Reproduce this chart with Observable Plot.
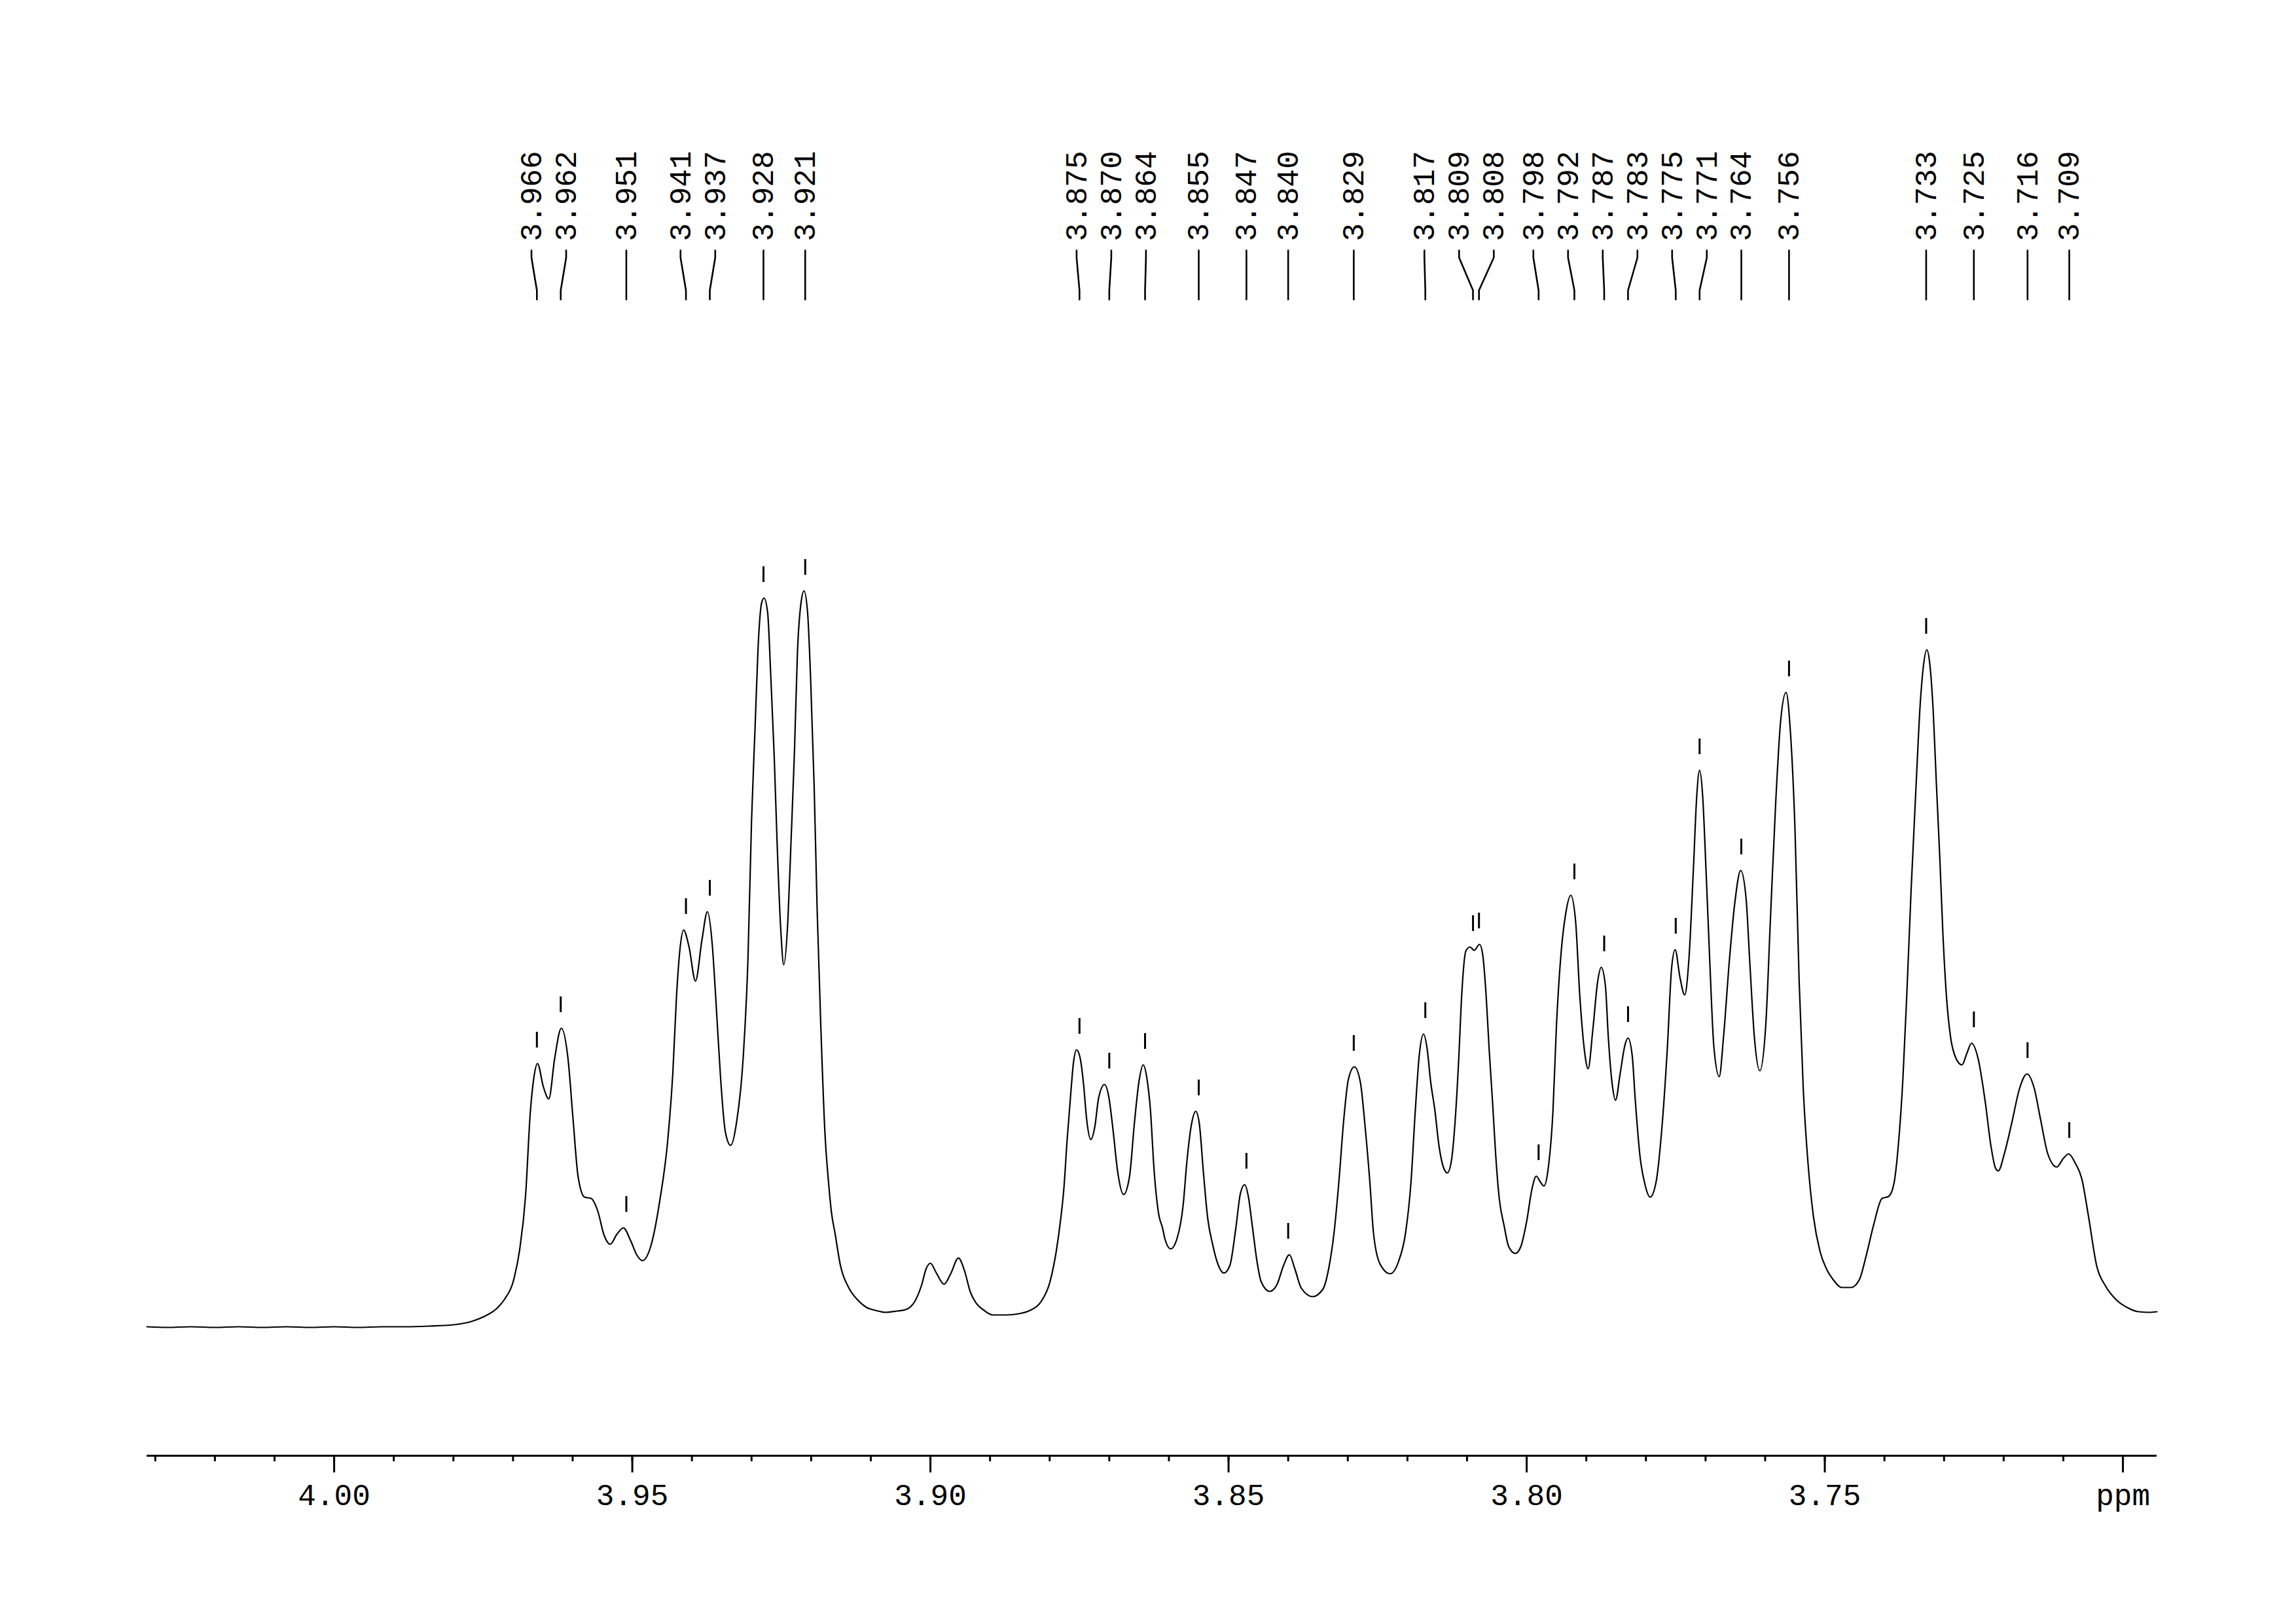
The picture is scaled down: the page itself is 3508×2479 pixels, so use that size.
<!DOCTYPE html>
<html>
<head>
<meta charset="utf-8">
<script src="https://cdn.jsdelivr.net/npm/d3@7"></script>
<script src="https://cdn.jsdelivr.net/npm/@observablehq/plot@0.6"></script>
<style>
  html, body { margin: 0; padding: 0; background: #ffffff; }
  #chart svg { display: block; }
</style>
</head>
<body>
<div id="chart"></div>
<script>
// ---------------- DATA ----------------
// chemical shift of each trace sample (ppm), left to right
const shiftPpm = [
  4.0314, 4.028, 4.024, 4.020, 4.016, 4.012, 4.008, 4.004, 4.000, 3.996, 3.992, 3.988, 3.984, 3.980, 3.977, 3.975,
  3.9726, 3.9715, 3.9698, 3.9689, 3.9679, 3.9671, 3.9665, 3.9659, 3.9649, 3.9640, 3.9630, 3.9619, 3.9608, 3.9599,
  3.9591, 3.9580, 3.9569, 3.9558, 3.9547, 3.9537, 3.9526, 3.9515, 3.9503, 3.9492, 3.9483, 3.9470, 3.9454, 3.9440,
  3.9432, 3.9426, 3.9420, 3.9414, 3.9405, 3.9394, 3.9383, 3.9374, 3.9366, 3.9360, 3.9352, 3.9344, 3.9335, 3.9325,
  3.9314, 3.9306, 3.9300, 3.9294, 3.9289, 3.9283, 3.9279, 3.9273, 3.9268, 3.9262, 3.9257, 3.9251, 3.9246, 3.9239,
  3.9234, 3.9228, 3.9223, 3.9217, 3.9212, 3.9206, 3.9201, 3.9195, 3.9190, 3.9184, 3.9177, 3.9171, 3.9166, 3.9160,
  3.9151, 3.9136, 3.9122, 3.9108, 3.9092, 3.9075, 3.9056, 3.9042, 3.9026, 3.9015, 3.9007, 3.9000, 3.8990, 3.8977,
  3.8966, 3.8953, 3.8943, 3.8933, 3.8924, 3.8910, 3.8895, 3.8873, 3.8851, 3.8833, 3.8814, 3.8800, 3.8789, 3.8782,
  3.8776, 3.8771, 3.8765, 3.8760, 3.8755, 3.8749, 3.8743, 3.8738, 3.8731, 3.8724, 3.8718, 3.8708, 3.8701, 3.8694,
  3.8686, 3.8676, 3.8666, 3.8658, 3.8650, 3.8643, 3.8637, 3.8631, 3.8625, 3.8617, 3.8611, 3.8606, 3.8597, 3.8586,
  3.8576, 3.8570, 3.8562, 3.8555, 3.8549, 3.8542, 3.8535, 3.8527, 3.8518, 3.8508, 3.8498, 3.8488, 3.8480, 3.8473,
  3.8467, 3.8460, 3.8452, 3.8445, 3.8431, 3.8419, 3.8408, 3.8398, 3.8389, 3.8378, 3.8359, 3.8342, 3.8332, 3.8323,
  3.8315, 3.8307, 3.8299, 3.8289, 3.8279, 3.8271, 3.8263, 3.8257, 3.8246, 3.8229, 3.8214, 3.8203, 3.8194, 3.8187,
  3.8180, 3.8173, 3.8167, 3.8161, 3.8154, 3.8147, 3.8139, 3.8133, 3.8126, 3.8120, 3.8114, 3.8109, 3.8102, 3.8095,
  3.8088, 3.8079, 3.8074, 3.8068, 3.8063, 3.8057, 3.8052, 3.8046, 3.8038, 3.8030, 3.8019, 3.8010, 3.8000, 3.7991,
  3.7984, 3.7977, 3.7971, 3.7964, 3.7956, 3.7950, 3.7942, 3.7934, 3.7926, 3.7918, 3.7911, 3.7903, 3.7897, 3.7889,
  3.7881, 3.7875, 3.7868, 3.7863, 3.7857, 3.7851, 3.7843, 3.7835, 3.7830, 3.7823, 3.7818, 3.7810, 3.7801, 3.7793,
  3.7783, 3.7774, 3.7764, 3.7757, 3.7751, 3.7743, 3.7735, 3.7728, 3.7720, 3.7715, 3.7710, 3.7705, 3.7699, 3.7693,
  3.7686, 3.7677, 3.7670, 3.7660, 3.7651, 3.7641, 3.7632, 3.7626, 3.7618, 3.7609, 3.7599, 3.7591, 3.7582, 3.7574,
  3.7565, 3.7558, 3.7550, 3.7543, 3.7536, 3.7528, 3.7519, 3.7508, 3.7497, 3.7486, 3.7472, 3.7456, 3.7442, 3.7431,
  3.7418, 3.7404, 3.7393, 3.7384, 3.7377, 3.7369, 3.7362, 3.7355, 3.7347, 3.7340, 3.7335, 3.7329, 3.7324, 3.7318,
  3.7313, 3.7307, 3.7302, 3.7296, 3.7289, 3.7280, 3.7270, 3.7262, 3.7254, 3.7243, 3.7231, 3.7221, 3.7214, 3.7209,
  3.7199, 3.7187, 3.7173, 3.7161, 3.7149, 3.7138, 3.7126, 3.7111, 3.7100, 3.7091, 3.7080, 3.7069, 3.7058, 3.7044,
  3.7029, 3.7011, 3.6992, 3.6974, 3.6956, 3.6943
];
// signal intensity of each trace sample (arbitrary units)
const signal = [
  1, 0, 1, 0, 1, 0, 1, 0, 1, 0, 1, 1, 2, 4, 9, 16,
  30, 42, 76, 118, 201, 329, 382, 403, 367, 349, 412, 457, 412, 314,
  231, 199, 197, 178, 140, 127, 142, 152, 133, 110, 102, 121, 193, 291,
  389, 503, 578, 607, 582, 529, 593, 635, 586, 503, 382, 299, 278, 314,
  412, 563, 774, 918, 1039, 1107, 1114, 1092, 1001, 873, 737, 608, 554, 623,
  737, 880, 1031, 1107, 1125, 1092, 993, 827, 639, 465, 299, 223, 176, 144,
  95, 59, 42, 31, 26, 23, 25, 27, 40, 64, 90, 98, 83, 66,
  82, 106, 87, 54, 38, 26, 19, 19, 21, 26, 40, 68, 116, 162,
  214, 283, 353, 405, 424, 412, 370, 318, 287, 308, 350, 371, 353, 304,
  238, 203, 231, 311, 377, 401, 381, 332, 242, 172, 153, 133, 120, 137,
  188, 252, 311, 330, 311, 235, 167, 128, 97, 83, 94, 150, 205, 218,
  201, 154, 99, 69, 55, 65, 94, 111, 90, 60, 47, 58, 90, 145,
  222, 315, 379, 398, 375, 307, 222, 145, 97, 82, 103, 145, 222, 328,
  417, 448, 426, 375, 332, 277, 243, 236, 256, 315, 409, 507, 575, 581,
  576, 585, 571, 507, 426, 341, 264, 197, 156, 123, 113, 123, 162, 212,
  231, 222, 216, 242, 329, 462, 575, 635, 660, 621, 508, 422, 395, 455,
  528, 550, 522, 442, 375, 347, 389, 432, 442, 415, 349, 262, 216, 199,
  222, 296, 428, 548, 577, 535, 508, 561, 708, 808, 851, 814, 694, 561,
  428, 383, 442, 561, 648, 698, 655, 561, 442, 392, 462, 628, 808, 927,
  970, 914, 761, 528, 362, 249, 169, 116, 89, 73, 61, 61, 73, 108,
  157, 197, 200, 220, 275, 380, 519, 673, 826, 952, 1007, 1035, 1014, 938,
  833, 715, 603, 506, 443, 411, 401, 418, 434, 411, 345, 275, 244, 239,
  265, 310, 366, 387, 366, 317, 265, 245, 258, 265, 251, 227, 171, 94,
  63, 42, 30, 24, 23, 24
];
// picked peaks: position (ppm, also the printed label) and height
const peakPpm = [
  3.966, 3.962, 3.951, 3.941, 3.937, 3.928, 3.921,
  3.875, 3.870, 3.864, 3.855, 3.847, 3.840, 3.829,
  3.817, 3.809, 3.808, 3.798, 3.792, 3.787, 3.783,
  3.775, 3.771, 3.764, 3.756, 3.733, 3.725, 3.716, 3.709
];
const peakHeight = [
  403, 457, 152, 607, 635, 1114, 1125,
  424, 371, 401, 330, 218, 111, 398,
  448, 581, 585, 231, 660, 550, 442,
  577, 851, 698, 970, 1035, 434, 387, 265
];
// axis ticks
const majorTicks = [4.00, 3.95, 3.90, 3.85, 3.80, 3.75, 3.70];
const minorTicks = [4.03, 4.02, 4.01, 4.00, 3.99, 3.98, 3.97, 3.96, 3.95, 3.94, 3.93, 3.92, 3.91, 3.90,
  3.89, 3.88, 3.87, 3.86, 3.85, 3.84, 3.83, 3.82, 3.81, 3.80, 3.79, 3.78, 3.77, 3.76, 3.75,
  3.74, 3.73, 3.72, 3.71, 3.70];
const unitLabel = "ppm";
const unitTick = 3.70;
const xDomain = [4.0314, 3.6943];

// ---------------- LAYOUT ----------------
const W = 3508, H = 2479;
const marginLeft = 224, marginRight = 213, marginTop = 0, marginBottom = 256;
const baselinePx = 2027;            // pixel row of zero intensity
const FONT = "'Liberation Mono', 'DejaVu Sans Mono', monospace";
const FONT_SIZE = 46;
const labelGap = 53;                // minimum label spacing in px

// y in units of px above the baseline (1 unit = 1 px)
const yDomain = [baselinePx - (H - marginBottom), baselinePx - marginTop];
const yAt = px => baselinePx - px;  // pixel row -> y value

const xScale = Plot.scale({x: {domain: xDomain, range: [marginLeft, W - marginRight]}});

// spread overlapping peak labels (cluster and distribute evenly)
const order = peakPpm.map((p, i) => ({i, px: xScale.apply(p)})).sort((a, b) => a.px - b.px);
let clusters = order.map(o => ({items: [o]}));
const place = c => {
  const m = d3.mean(c.items, d => d.px);
  c.start = m - (c.items.length - 1) * labelGap / 2;
  c.end = c.start + (c.items.length - 1) * labelGap;
};
clusters.forEach(place);
let changed = true;
while (changed) {
  changed = false;
  for (let k = 0; k < clusters.length - 1; k++) {
    if (clusters[k + 1].start - clusters[k].end < labelGap - 0.5) {
      clusters[k].items = clusters[k].items.concat(clusters[k + 1].items);
      clusters.splice(k + 1, 1);
      place(clusters[k]);
      changed = true;
      break;
    }
  }
}
const labelPx = new Array(peakPpm.length);
clusters.forEach(c => c.items.forEach((o, j) => { labelPx[o.i] = c.start + j * labelGap; }));

const spectrum = shiftPpm.map((p, i) => ({ppm: p, I: signal[i]}));
const peaks = peakPpm.map((p, i) => ({
  ppm: p, h: peakHeight[i], lx: xScale.invert(labelPx[i]), text: p.toFixed(3)
}));

const labelY = yAt(368);
const connY = [yAt(382), yAt(393), yAt(443), yAt(457)];
const connectors = peaks.flatMap((d, i) => [
  {k: i, x: d.lx, y: connY[0]},
  {k: i, x: d.lx, y: connY[1]},
  {k: i, x: d.ppm, y: connY[2]},
  {k: i, x: d.ppm, y: connY[3]}
]);

const plot = Plot.plot({
  width: W,
  height: H,
  marginLeft, marginRight, marginTop, marginBottom,
  style: {background: "#ffffff", color: "#000000", fontFamily: FONT},
  x: {domain: xDomain, axis: null},
  y: {domain: yDomain, axis: null},
  marks: [
    // spectrum trace
    Plot.line(spectrum, {x: "ppm", y: "I", curve: "monotone-x", stroke: "#000", strokeWidth: 2.2}),
    // peak pick markers
    Plot.ruleX(peaks, {x: "ppm", y1: d => d.h + 24, y2: d => d.h + 48, stroke: "#000", strokeWidth: 3}),
    // connectors from labels to peaks
    Plot.line(connectors, {x: "x", y: "y", z: "k", stroke: "#000", strokeWidth: 2.6, curve: "linear"}),
    // peak labels
    Plot.text(peaks, {
      x: "lx", y: () => labelY, text: "text", rotate: -90,
      textAnchor: "start", lineAnchor: "middle",
      fontSize: FONT_SIZE, fontFamily: FONT, fill: "#000"
    }),
    // axis line
    Plot.ruleY([yDomain[0]], {stroke: "#000", strokeWidth: 3}),
    // minor ticks
    Plot.axisX({ticks: minorTicks, tickSize: 9, text: null, label: null, strokeWidth: 3}),
    // major ticks with labels
    Plot.axisX({
      ticks: majorTicks, tickSize: 26, tickPadding: 17, label: null, strokeWidth: 3,
      tickFormat: v => Math.abs(v - unitTick) < 1e-9 ? unitLabel : d3.format(".2f")(v),
      fontSize: FONT_SIZE, fontFamily: FONT, fill: "#000"
    })
  ]
});
document.getElementById("chart").appendChild(plot);
</script>
</body>
</html>
